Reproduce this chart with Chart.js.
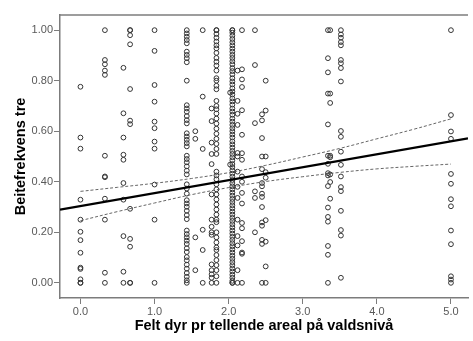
<!DOCTYPE html>
<html><head><meta charset="utf-8">
<script src="https://cdn.jsdelivr.net/npm/chart.js@4.4.1/dist/chart.umd.min.js"></script>
<style>html,body{margin:0;padding:0;background:#fff;overflow:hidden}#wrap{width:473px;height:341px}</style>
</head><body><div id="wrap"><canvas id="c" width="473" height="341"></canvas></div>
<script>
const xTitle = 'Felt dyr pr tellende areal på valdsnivå';
const yTitle = 'Beitefrekvens tre';
const xTicks = [0, 1, 2, 3, 4, 5];
const yTicks = [0, 0.2, 0.4, 0.6, 0.8, 1.0];

// observations, one array per x value (Felt dyr)
const col_0_00 = [0.776, 0.575, 0.531, 0.329, 0.25, 0.202, 0.169, 0.119, 0.06, 0.055, 0.014, 0.0, 0.0];
const col_0_33 = [1.0, 0.882, 0.865, 0.84, 0.823, 0.503, 0.421, 0.418, 0.333, 0.25, 0.04, 0.0];
const col_0_58 = [0.851, 0.671, 0.575, 0.507, 0.487, 0.395, 0.329, 0.185, 0.044, 0.0];
const col_0_67 = [1.0, 1.0, 0.98, 0.944, 0.767, 0.642, 0.628, 0.293, 0.174, 0.143, 0.0, 0.0];
const col_1_00 = [1.0, 0.918, 0.783, 0.717, 0.638, 0.612, 0.559, 0.531, 0.389, 0.25, 0.0];
const col_1_43 = [1.0, 0.987, 0.974, 0.961, 0.948, 0.915, 0.902, 0.889, 0.873, 0.80, 0.703, 0.69, 0.677, 0.66, 0.644, 0.631,
  0.592, 0.579, 0.566, 0.553, 0.54, 0.503, 0.49, 0.477, 0.461, 0.444, 0.429, 0.39, 0.373, 0.353, 0.327, 0.314, 0.301, 0.285,
  0.268, 0.252, 0.207, 0.193, 0.18, 0.167, 0.154, 0.137, 0.122, 0.102, 0.089, 0.072, 0.056, 0.039, 0.024, 0.01, 0.0];
const col_1_55 = [0.60, 0.57, 0.18, 0.05];
const col_1_65 = [1.0, 0.737, 0.53, 0.21, 0.13, 0.0];
const col_1_77 = [0.69, 0.64, 0.555, 0.51, 0.47, 0.35, 0.25, 0.222, 0.20, 0.19, 0.073, 0.05, 0.034, 0.02, 0.0];
const col_1_83 = [1.0, 1.0, 0.985, 0.97, 0.955, 0.94, 0.928, 0.91, 0.89, 0.875, 0.86, 0.84, 0.81, 0.80, 0.78, 0.766, 0.72,
  0.70, 0.687, 0.67, 0.65, 0.63, 0.61, 0.59, 0.57, 0.55, 0.53, 0.51, 0.44, 0.425, 0.41, 0.39, 0.37, 0.35, 0.33, 0.31, 0.29,
  0.27, 0.25, 0.24, 0.20, 0.18, 0.16, 0.14, 0.13, 0.11, 0.09, 0.07, 0.05, 0.026, 0.0];
const col_2_02 = [0.753, 0.468];
const col_2_05 = [1.0, 1.0, 0.99, 0.978, 0.965, 0.952, 0.94, 0.927, 0.915, 0.902, 0.89, 0.877, 0.865, 0.85, 0.838, 0.825,
  0.81, 0.797, 0.785, 0.77, 0.757, 0.745, 0.73, 0.718, 0.705, 0.69, 0.678, 0.665, 0.65, 0.638, 0.625, 0.612, 0.6, 0.587,
  0.575, 0.56, 0.548, 0.535, 0.522, 0.51, 0.497, 0.485, 0.47, 0.458, 0.445, 0.432, 0.42, 0.407, 0.395, 0.382, 0.37, 0.357,
  0.345, 0.332, 0.32, 0.307, 0.295, 0.282, 0.27, 0.257, 0.245, 0.232, 0.22, 0.207, 0.195, 0.182, 0.17, 0.157, 0.145, 0.132,
  0.12, 0.107, 0.095, 0.082, 0.07, 0.057, 0.045, 0.032, 0.02, 0.008, 0.0, 0.0];
const col_2_12 = [0.84, 0.72, 0.669, 0.625, 0.514, 0.50, 0.44, 0.38, 0.336, 0.25, 0.185, 0.148, 0.05, 0.0];
const col_2_18 = [1.0, 0.845, 0.805, 0.775, 0.683, 0.586, 0.513, 0.487, 0.421, 0.40, 0.356, 0.314, 0.237, 0.216, 0.165, 0.12, 0.115, 0.0];
const col_2_36 = [1.0, 0.862, 0.632, 0.362, 0.336, 0.2];
const col_2_45 = [0.667, 0.643, 0.573, 0.50, 0.45, 0.395, 0.382, 0.353, 0.34, 0.30, 0.239, 0.226, 0.17, 0.154, 0.0];
const col_2_50 = [0.80, 0.682, 0.50, 0.438, 0.416, 0.248, 0.163, 0.065, 0.0];
const col_3_34 = [1.0, 0.889, 0.833, 0.749, 0.627, 0.503, 0.471, 0.434, 0.425, 0.383, 0.298, 0.261, 0.242, 0.146, 0.111, 0.0];
const col_3_37 = [1.0, 0.749, 0.712, 0.503, 0.497, 0.429, 0.399, 0.333];
const col_3_51 = [1.0, 0.983, 0.97, 0.953, 0.94, 0.882, 0.869, 0.85, 0.797, 0.601, 0.578, 0.519, 0.467, 0.421, 0.379, 0.363, 0.285, 0.209, 0.187, 0.02];
const col_5_00 = [1.0, 0.664, 0.599, 0.57, 0.431, 0.392, 0.331, 0.303, 0.207, 0.153, 0.026, 0.013, 0.0];

const columnX = [0, 0.33, 0.58, 0.67, 1.0, 1.435, 1.55, 1.65, 1.77, 1.835, 2.02, 2.05, 2.12, 2.18, 2.355, 2.45, 2.5, 3.34, 3.37, 3.515, 5.0];
const columnY = [col_0_00, col_0_33, col_0_58, col_0_67, col_1_00, col_1_43, col_1_55, col_1_65, col_1_77, col_1_83, col_2_02,
  col_2_05, col_2_12, col_2_18, col_2_36, col_2_45, col_2_50, col_3_34, col_3_37, col_3_51, col_5_00];

// fit line (at the plot edges)
const fitX = [-0.276, 5.23];
const fitY = [0.29, 0.572];
// 95% confidence band of the mean
const ciX = [0, 0.5, 1, 1.5, 2, 2.5, 3, 3.5, 4, 4.5, 5];
const ciUpper = [0.362, 0.378, 0.394, 0.413, 0.436, 0.465, 0.498, 0.532, 0.570, 0.608, 0.649];
const ciLower = [0.246, 0.282, 0.316, 0.349, 0.377, 0.401, 0.420, 0.437, 0.451, 0.461, 0.470];

const points = [];
columnX.forEach((x, i) => columnY[i].forEach(y => points.push({x: x, y: y})));
const pair = (xs, ys) => xs.map((x, i) => ({x: x, y: ys[i]}));

const axisColor = '#7c7c7c';
const font = 'Liberation Sans, Arial, sans-serif';

const topBorder = {
  id: 'topBorder',
  afterDraw(chart) {
    const {ctx, chartArea: a} = chart;
    ctx.save();
    ctx.strokeStyle = axisColor;
    ctx.lineWidth = 1.5;
    ctx.beginPath();
    ctx.moveTo(a.left, a.top);
    ctx.lineTo(a.right, a.top);
    ctx.stroke();
    ctx.restore();
  }
};

new Chart(document.getElementById('c'), {
  type: 'scatter',
  data: {
    datasets: [
      {type: 'line', data: pair(fitX, fitY), borderColor: '#000', borderWidth: 2.3, pointRadius: 0, order: 0},
      {type: 'line', data: pair(ciX, ciUpper), borderColor: '#555', borderWidth: 0.9, borderDash: [3, 2], pointRadius: 0, tension: 0.4, order: 0},
      {type: 'line', data: pair(ciX, ciLower), borderColor: '#555', borderWidth: 0.9, borderDash: [3, 2], pointRadius: 0, tension: 0.4, order: 0},
      {data: points, pointStyle: 'circle', pointRadius: 2.4, borderWidth: 1, borderColor: '#333', backgroundColor: 'rgba(0,0,0,0)', order: 1}
    ]
  },
  options: {
    responsive: false,
    animation: false,
    devicePixelRatio: 1,
    layout: {padding: {top: 15, right: 0, bottom: 0, left: 0}},
    plugins: {legend: {display: false}, tooltip: {enabled: false}},
    scales: {
      x: {
        type: 'linear', min: -0.276, max: 5.23,
        afterBuildTicks: s => { s.ticks = xTicks.map(v => ({value: v})); },
        afterFit: s => { s.height = 43; },
        grid: {display: true, drawOnChartArea: false, drawTicks: true, tickLength: 6, color: axisColor, lineWidth: 1},
        border: {display: true, color: axisColor, width: 1.5},
        ticks: {padding: 1, color: '#595959', font: {family: font, size: 11}, callback: v => Number(v).toFixed(1), maxRotation: 0},
        title: {display: true, text: xTitle, color: '#000', font: {family: font, size: 14.5, weight: 'bold'}, padding: {top: 0, bottom: 6}}
      },
      y: {
        type: 'linear', min: -0.06, max: 1.06,
        afterBuildTicks: s => { s.ticks = yTicks.map(v => ({value: v})); },
        afterFit: s => { s.width = 60; },
        grid: {display: true, drawOnChartArea: false, drawTicks: true, tickLength: 6, color: axisColor, lineWidth: 1},
        border: {display: true, color: axisColor, width: 1.5},
        ticks: {padding: 1, color: '#595959', font: {family: font, size: 11}, callback: v => Number(v).toFixed(2)},
        title: {display: true, text: yTitle, color: '#000', font: {family: font, size: 14.5, weight: 'bold'}, padding: {top: 12, bottom: 0}}
      }
    }
  },
  plugins: [topBorder]
});
</script>
</body></html>
